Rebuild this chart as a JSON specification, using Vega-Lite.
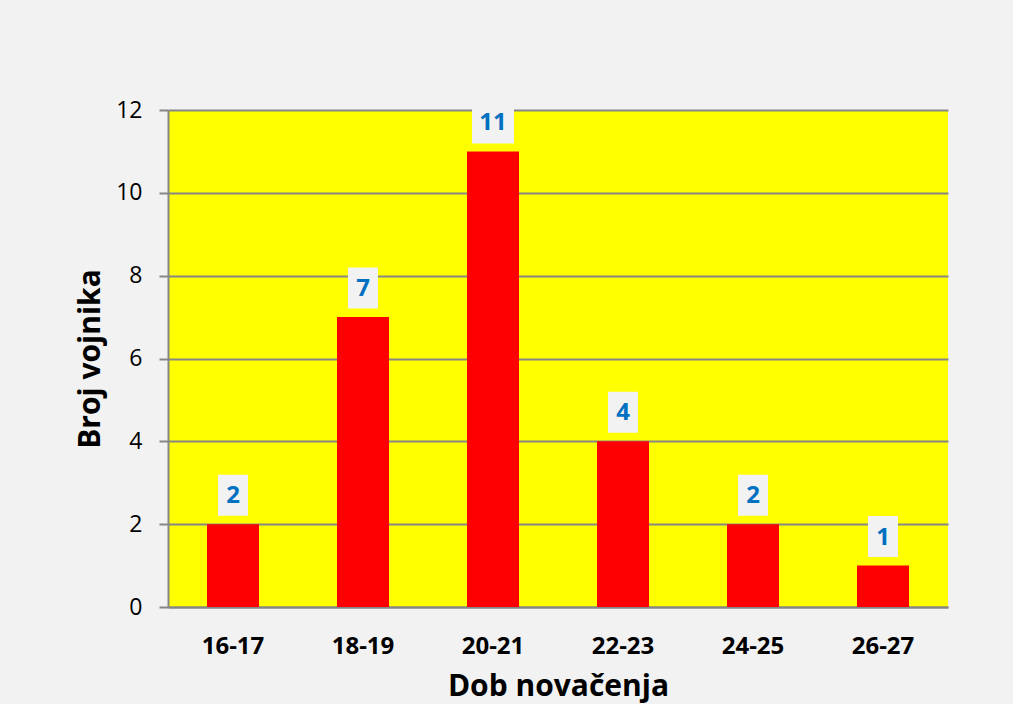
{
  "$schema": "https://vega.github.io/schema/vega-lite/v6.json",
  "autosize": "none",
  "width": 780,
  "height": 497,
  "padding": {"left": 168, "top": 110, "right": 65, "bottom": 97},
  "background": "#f2f2f2",
  "config": {
    "font": "Open Sans",
    "view": {"fill": "#ffff00", "stroke": null},
    "axis": {
      "domainColor": "#868686",
      "domainWidth": 2,
      "tickColor": "#868686",
      "tickWidth": 2,
      "gridColor": "#868686",
      "gridWidth": 2,
      "labelColor": "#000000",
      "titleColor": "#000000",
      "labelFont": "Open Sans",
      "titleFont": "Open Sans"
    }
  },
  "data": {
    "values": [
      {"age": "16-17", "count": 2},
      {"age": "18-19", "count": 7},
      {"age": "20-21", "count": 11},
      {"age": "22-23", "count": 4},
      {"age": "24-25", "count": 2},
      {"age": "26-27", "count": 1}
    ]
  },
  "encoding": {
    "x": {
      "field": "age",
      "type": "ordinal",
      "sort": null,
      "scale": {"paddingInner": 0.6, "paddingOuter": 0.3},
      "axis": {
        "title": "Dob novačenja",
        "labelAngle": 0,
        "labelFontSize": 24,
        "labelFontWeight": "bold",
        "labelPadding": 27,
        "ticks": false,
        "tickSize": 0,
        "titleFontSize": 30,
        "titleFontWeight": "bold",
        "titleBaseline": "alphabetic",
        "titleY": 88
      }
    },
    "y": {
      "field": "count",
      "type": "quantitative",
      "scale": {"domain": [0, 12], "nice": false},
      "axis": {
        "title": "Broj vojnika",
        "values": [0, 2, 4, 6, 8, 10, 12],
        "grid": true,
        "tickSize": 9,
        "labelPadding": 17,
        "labelFontSize": 23,
        "titleFontSize": 30,
        "titleFontWeight": "bold",
        "titleAngle": -90,
        "titleBaseline": "alphabetic",
        "titleX": -68.5,
        "titleY": 248.5
      }
    }
  },
  "layer": [
    {
      "mark": {"type": "bar", "color": "#ff0000"}
    },
    {
      "mark": {"type": "point", "filled": true, "size": 1600, "fill": "#f2f2f2", "opacity": 1, "strokeWidth": 0},
      "encoding": {
        "shape": {
          "condition": {"test": "datum.count >= 10", "value": "M-1.05,-2.15H1.05V-0.4H-1.05Z"},
          "value": "M-0.75,-2.475H0.75V-0.425H-0.75Z"
        }
      }
    },
    {
      "mark": {"type": "text", "dy": -28, "baseline": "middle", "fontSize": 24, "fontWeight": "bold", "color": "#0070c0"},
      "encoding": {"text": {"field": "count", "type": "quantitative"}}
    }
  ]
}
